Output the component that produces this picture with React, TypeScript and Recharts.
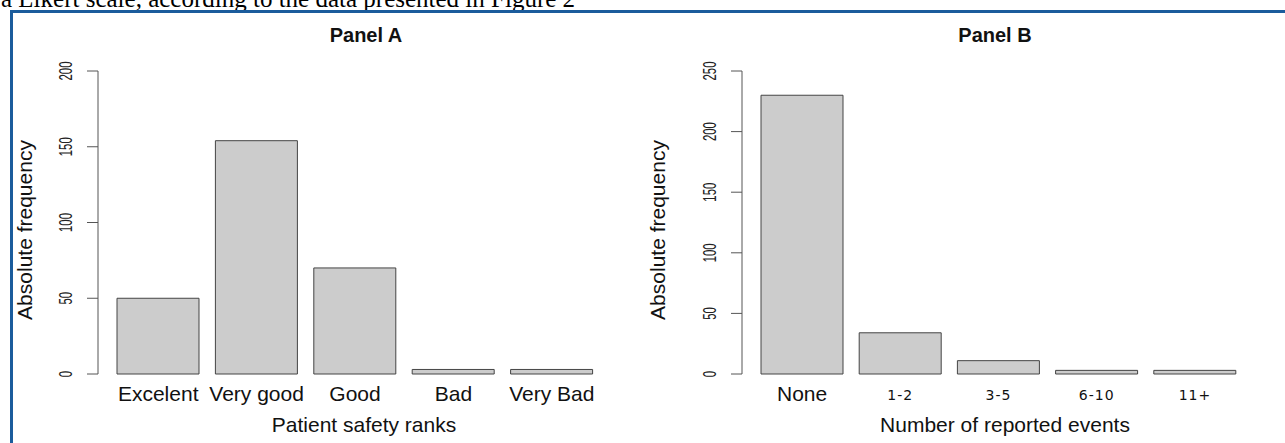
import React from "react";
import { BarChart, Bar, XAxis, YAxis, Label } from "recharts";

// Panel A: patient safety ranks
const safetyRanks = ["Excelent", "Very good", "Good", "Bad", "Very Bad"];
const safetyCounts = [50, 154, 70, 3, 3];
const safetyTicks = [0, 50, 100, 150, 200];

// Panel B: number of reported events
const eventBins = ["None", "1-2", "3-5", "6-10", "11+"];
const eventCounts = [230, 34, 11, 3, 3];
const eventTicks = [0, 50, 100, 150, 200, 250];

const SANS = '"Liberation Sans", Arial, Helvetica, sans-serif';
const WIDE = '"DejaVu Sans", Verdana, sans-serif';
const BAR_FILL = "#cccccc";
const BAR_EDGE = "#444444";
const AXIS = "#555555";
const FRAME = "#1b5c9c";
const H = 443;

function YTick({ x, y, payload }: any) {
  return (
    <text
      transform={`translate(${x - 15},${y}) rotate(-90) scale(0.6,1)`}
      textAnchor="middle"
      fontSize={19}
      fontFamily={SANS}
      fill="#222"
    >
      {payload.value}
    </text>
  );
}

function CatTick({ x, y, payload }: any) {
  const word = /[A-Za-z]/.test(String(payload.value));
  return (
    <text
      x={x}
      y={y + (word ? 27 : 26)}
      textAnchor="middle"
      fontSize={word ? 21 : 14}
      letterSpacing={word ? 0 : 1}
      fontFamily={word ? SANS : WIDE}
      fill="#111"
    >
      {payload.value}
    </text>
  );
}

type PanelProps = {
  labels: string[];
  counts: number[];
  ticks: number[];
  left: number;
  width: number;
  axisX: number;
  rangeStart: number;
  rangeEnd: number;
  xLabel: string;
  xLabelX: number;
  yLabelX: number;
};

function Panel(p: PanelProps) {
  const data = p.labels.map((name, i) => ({ name, value: p.counts[i] }));
  const yMax = p.ticks[p.ticks.length - 1];
  return (
    <div style={{ position: "absolute", left: p.left, top: 0 }}>
      <BarChart
        width={p.width}
        height={H}
        data={data}
        margin={{ top: 71, right: p.width - p.rangeEnd, bottom: 0, left: 0 }}
      >
        <XAxis
          dataKey="name"
          interval={0}
          height={69}
          tickLine={false}
          axisLine={false}
          tickSize={0}
          tickMargin={0}
          padding={{ left: p.rangeStart - p.axisX, right: 0 }}
          tick={<CatTick />}
        >
          <Label
            content={() => (
              <text x={p.xLabelX} y={432} textAnchor="middle" fontSize={21} fontFamily={SANS} fill="#111">
                {p.xLabel}
              </text>
            )}
          />
        </XAxis>
        <YAxis
          type="number"
          domain={[0, yMax]}
          ticks={p.ticks}
          interval={0}
          width={p.axisX}
          tickSize={11}
          tickMargin={0}
          axisLine={{ stroke: AXIS }}
          tickLine={{ stroke: AXIS }}
          tick={<YTick />}
        >
          <Label
            content={() => (
              <text
                transform={`translate(${p.yLabelX},230) rotate(-90)`}
                textAnchor="middle"
                fontSize={21}
                fontFamily={SANS}
                fill="#111"
              >
                Absolute frequency
              </text>
            )}
          />
        </YAxis>
        <Bar
          dataKey="value"
          fill={BAR_FILL}
          stroke={BAR_EDGE}
          strokeWidth={1}
          barSize={82}
          isAnimationActive={false}
        />
      </BarChart>
    </div>
  );
}

export default function App() {
  return (
    <div
      style={{
        position: "absolute",
        left: 0,
        top: 0,
        width: 1285,
        height: H,
        overflow: "hidden",
        background: "#fff",
      }}
    >
      <svg width={1285} height={H} style={{ position: "absolute", left: 0, top: 0 }}>
        <text x={1} y={7} fontSize={25} fontFamily='"Liberation Serif", "Times New Roman", serif' fill="#000">
          a Likert scale, according to the data presented in Figure 2
        </text>
        <rect x={10} y={10} width={1285} height={3} fill={FRAME} />
        <rect x={10} y={10} width={3} height={H} fill={FRAME} />
        <text x={366} y={42} textAnchor="middle" fontSize={20} fontWeight="bold" fontFamily={SANS} fill="#111">
          Panel A
        </text>
        <text x={995} y={42} textAnchor="middle" fontSize={20} fontWeight="bold" fontFamily={SANS} fill="#111">
          Panel B
        </text>
      </svg>
      <Panel
        labels={safetyRanks}
        counts={safetyCounts}
        ticks={safetyTicks}
        left={0}
        width={640}
        axisX={98}
        rangeStart={109}
        rangeEnd={601}
        xLabel="Patient safety ranks"
        xLabelX={364}
        yLabelX={32}
      />
      <Panel
        labels={eventBins}
        counts={eventCounts}
        ticks={eventTicks}
        left={640}
        width={645}
        axisX={102}
        rangeStart={113}
        rangeEnd={604}
        xLabel="Number of reported events"
        xLabelX={365}
        yLabelX={25}
      />
    </div>
  );
}
